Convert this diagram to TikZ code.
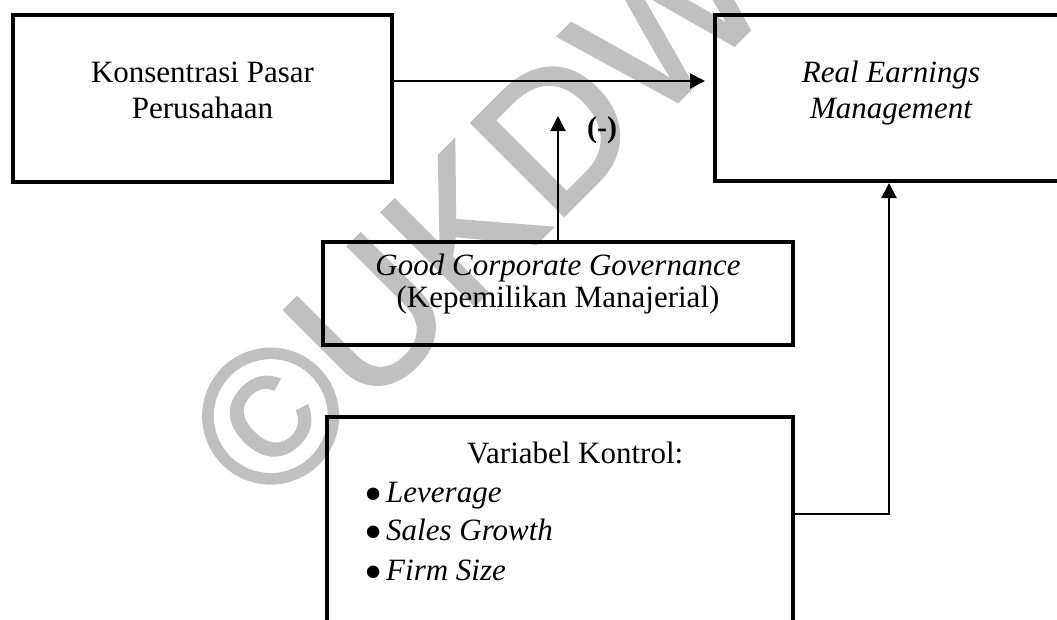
\documentclass[tikz,border=0pt]{standalone}
\usepackage{fontspec}
\setmainfont{Liberation Serif}
\newfontfamily\wmfont[FakeBold=1.5]{Liberation Sans}
\usetikzlibrary{arrows.meta}
\definecolor{wmgray}{RGB}{192,192,192}
\begin{document}
\begin{tikzpicture}[x=1pt,y=-1pt,
  box/.style={draw=black, line width=4pt, rectangle, inner sep=0pt},
  txt/.style={inner sep=0pt, font=\fontsize{31}{36}\selectfont},
  bul/.style={inner sep=0pt, anchor=center, font=\fontsize{52}{52}\selectfont},
  conn/.style={line width=2pt, -{Triangle[length=15pt,width=15pt]}}]
\useasboundingbox (0,0) rectangle (1057,619);
\clip (0,0) rectangle (1057,619);
% watermark
\node[rotate=45, text=wmgray, inner sep=0pt, font=\wmfont\fontsize{190}{190}\selectfont] (wm) at (476,211) {©UKDW};
% boxes
\node[box, minimum width=379pt, minimum height=167pt] (kp) at (202.5,98.5) {};
\node[box, minimum width=355pt, minimum height=166pt] (rem) at (892.5,98) {};
\node[box, minimum width=470pt, minimum height=103pt] (gcg) at (558,293.5) {};
\node[box, minimum width=466pt, minimum height=283pt] (kv) at (560,558.5) {};
% texts
\node[txt, anchor=base] (kp1) at (202.5,82) {Konsentrasi Pasar};
\node[txt, anchor=base] (kp2) at (202.5,118) {Perusahaan};
\node[txt, anchor=base] (rem1) at (891,82) {\itshape Real Earnings};
\node[txt, anchor=base] (rem2) at (891,118) {\itshape Management};
\node[txt, anchor=base] (g1) at (558,275) {\itshape Good Corporate Governance};
\node[txt, anchor=base] (g2) at (558,307) {(Kepemilikan Manajerial)};
\node[txt, anchor=base west] (kvt) at (467,463) {Variabel Kontrol:};
\node[bul] (b1) at (374,500) {•};
\node[txt, anchor=base west] (i1) at (386,502) {\itshape Leverage};
\node[bul] (b2) at (374,538) {•};
\node[txt, anchor=base west] (i2) at (386,540) {\itshape Sales Growth};
\node[bul] (b3) at (374,578) {•};
\node[txt, anchor=base west] (i3) at (386,580) {\itshape Firm Size};
\node[inner sep=0pt, anchor=base west, font=\fontsize{30}{36}\selectfont\bfseries] (neg) at (587,137) {(-)};
% connectors
\coordinate (mod) at (558,116);
\draw[conn] ([yshift=17.5pt]kp.east) -- ([xshift=-8pt,yshift=17pt]rem.west);
\draw[conn] (gcg.north) -- (mod);
\draw[conn] ([yshift=44.5pt]kv.east) -| ([xshift=-3.5pt]rem.south);
\end{tikzpicture}
\end{document}
